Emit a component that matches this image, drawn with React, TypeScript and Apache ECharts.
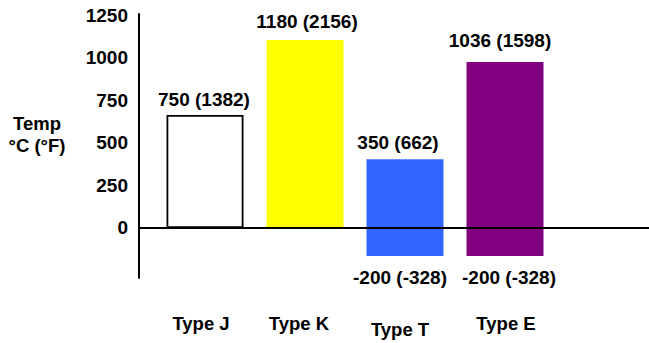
import React, { useEffect, useRef } from "react";
import * as echarts from "echarts";

const categories = ["Type J", "Type K", "Type T", "Type E"];
const highValues = [663, 1103, 403, 974];
const lowValues: (number | null)[] = [null, null, -165, -165];
const highLabels = ["750 (1382)", "1180 (2156)", "350 (662)", "1036 (1598)"];
const lowLabels = ["", "", "-200 (-328)", "-200 (-328)"];
const yTicks = [0, 250, 500, 750, 1000, 1250];

const barColors = ["#FFFFFF", "#FFFF00", "#3366FF", "#800080"];
const topLabelGaps = [6, 9, 7, 12];
const topLabelShift = [-1, 2, -7, -5];
const lowLabelShift = [0, 0, -5, 4];
const catLabelPads = [
  [0, 8, 0, 0],
  [0, 12, 0, 0],
  [6, 10, 0, 0],
  [0, 0, 0, 2],
];
const FONT = "'Liberation Sans', Arial, Helvetica, sans-serif";

export default function App() {
  const ref = useRef<HTMLDivElement>(null);
  useEffect(() => {
    document.body.style.margin = "0";
    if (!ref.current) return;
    const chart = echarts.init(ref.current, null, { renderer: "svg" });
    const textBase = { color: "#000", fontWeight: "bold" as const, fontFamily: FONT, fontSize: 19 };
    chart.setOption({
      animation: false,
      backgroundColor: "#fff",
      grid: { left: 155, right: 94, top: 14, bottom: 65, containLabel: false },
      xAxis: {
        type: "category",
        data: categories.map((c, i) => ({
          value: c,
          textStyle: { padding: catLabelPads[i] },
        })),
        axisLine: { show: false },
        axisTick: { show: false },
        axisLabel: { ...textBase, fontSize: 18.5, margin: 36 },
        splitLine: { show: false },
      },
      yAxis: {
        type: "value",
        min: -294,
        max: 1256,
        offset: 16,
        axisLine: { show: true, lineStyle: { color: "#000", width: 2 } },
        axisTick: { show: false },
        splitLine: { show: false },
        axisLabel: {
          ...textBase,
          margin: 11,
          customValues: yTicks,
          formatter: (v: number) => String(v),
        },
      },
      series: [
        {
          type: "bar",
          barWidth: 77,
          barGap: "-100%",
          data: highValues.map((v, i) => ({
            value: v,
            itemStyle: {
              color: barColors[i],
              borderColor: i === 0 ? "#000" : barColors[i],
              borderWidth: i === 0 ? 1.8 : 0,
            },
            label: { distance: topLabelGaps[i], offset: [topLabelShift[i], 0] },
          })),
          label: {
            show: true,
            position: "top",
            ...textBase,
            formatter: (p: any) => highLabels[p.dataIndex],
          },
        },
        {
          type: "bar",
          barWidth: 77,
          barGap: "-100%",
          data: lowValues.map((v, i) => ({
            value: v,
            itemStyle: { color: barColors[i] },
            label: { offset: [lowLabelShift[i], 0] },
          })),
          label: {
            show: true,
            position: "bottom",
            distance: 12,
            ...textBase,
            formatter: (p: any) => lowLabels[p.dataIndex],
          },
        },
      ],
    });
    const y0 = chart.convertToPixel({ yAxisIndex: 0 }, 0) as number;
    chart.setOption({
      graphic: [
        {
          type: "line",
          z: 100,
          shape: { x1: 139, y1: y0, x2: 649, y2: y0 },
          style: { stroke: "#000", lineWidth: 2 },
        },
        {
          type: "text",
          x: 37,
          y: 134,
          style: {
            text: "Temp\n°C (°F)",
            fill: "#000",
            fontWeight: "bold",
            fontFamily: FONT,
            fontSize: 18.5,
            lineHeight: 22,
            align: "center",
            verticalAlign: "middle",
          },
        },
      ],
    });
    return () => chart.dispose();
  }, []);
  return <div ref={ref} style={{ width: 649, height: 343 }} />;
}
